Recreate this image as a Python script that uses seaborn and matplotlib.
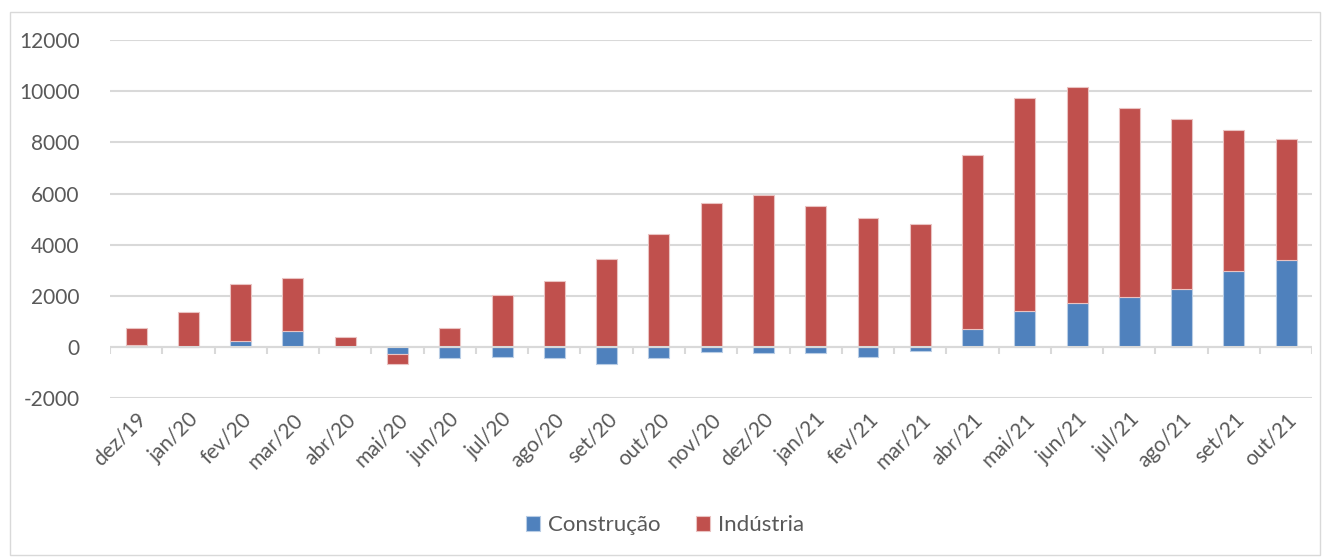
import numpy as np
import pandas as pd
import seaborn as sns
import matplotlib.pyplot as plt
from matplotlib.patches import Rectangle

# Data
months = ['dez/19', 'jan/20', 'fev/20', 'mar/20', 'abr/20', 'mai/20', 'jun/20',
          'jul/20', 'ago/20', 'set/20', 'out/20', 'nov/20', 'dez/20', 'jan/21',
          'fev/21', 'mar/21', 'abr/21', 'mai/21', 'jun/21', 'jul/21', 'ago/21',
          'set/21', 'out/21']
construcao = [90, 0, 250, 620, 0, -290, -430, -400, -430, -680, -420, -180, -240,
              -220, -400, -170, 720, 1400, 1710, 1950, 2250, 2980, 3420]
industria = [640, 1380, 2200, 2080, 380, -370, 750, 2030, 2600, 3450, 4420, 5650,
             5960, 5530, 5030, 4800, 6800, 8350, 8440, 7380, 6680, 5500, 4710]

blue = '#4f81bd'
red = '#c0504d'
grid_c = '#d9d9d9'
text_c = '#595959'

sns.set_theme(style='white')
plt.rcParams['font.family'] = ['Lato', 'DejaVu Sans']
plt.rcParams['axes.unicode_minus'] = False

df = pd.DataFrame({'mes': months, 'Construção': construcao, 'Indústria': industria})
# Excel-style stacking: positives on positives, negatives on negatives
df['base_ind'] = np.where(df['Indústria'] >= 0, df['Construção'].clip(lower=0),
                          df['Construção'].clip(upper=0))

fig = plt.figure(figsize=(13.3, 5.6), dpi=100)
ax = fig.add_axes([0.0827, 0.289, 0.904, 0.6394])

sns.barplot(data=df, x='mes', y='Construção', color=blue, width=0.4, saturation=1,
            edgecolor='#b9cde5', linewidth=0.8, ax=ax, label='Construção')
sns.barplot(data=df, x='mes', y='Indústria', color=red, width=0.4, saturation=1,
            bottom=df['base_ind'], edgecolor='#eac3c2', linewidth=0.8, ax=ax,
            label='Indústria')

ax.set_ylim(-2000, 12000)
ax.set_xlim(-0.5, len(months) - 0.5)
ax.set_yticks(range(-2000, 12001, 2000))
ax.yaxis.grid(True, color=grid_c, linewidth=1.5)
ax.set_axisbelow(True)
for s in ax.spines.values():
    s.set_visible(False)

# category axis at zero with tick marks between categories
ax.axhline(0, color=grid_c, linewidth=1.5, zorder=1)
ax.vlines(np.arange(-0.5, len(months)), -280, 0, color=grid_c, linewidth=1.5)

ax.set_xlabel('')
ax.set_ylabel('')
ax.tick_params(axis='both', length=0, colors=text_c, labelsize=15)
ax.tick_params(axis='y', pad=22)
ax.tick_params(axis='x', pad=8)
plt.setp(ax.get_xticklabels(), rotation=45, ha='right', rotation_mode='anchor')

handles, labels = ax.get_legend_handles_labels()
if ax.legend_:
    ax.legend_.remove()
fig.legend(handles, labels, loc='center', bbox_to_anchor=(0.5, 0.0625), ncol=2,
           frameon=False, fontsize=16, handlelength=0.65, handleheight=0.65,
           handletextpad=0.35, columnspacing=1.6, labelcolor=text_c)

fig.patches.append(Rectangle((10 / 1330, 5 / 560), 1310 / 1330, 543 / 560,
                             transform=fig.transFigure, fill=False,
                             edgecolor=grid_c, linewidth=1))

fig.savefig('out.png', dpi=100)
